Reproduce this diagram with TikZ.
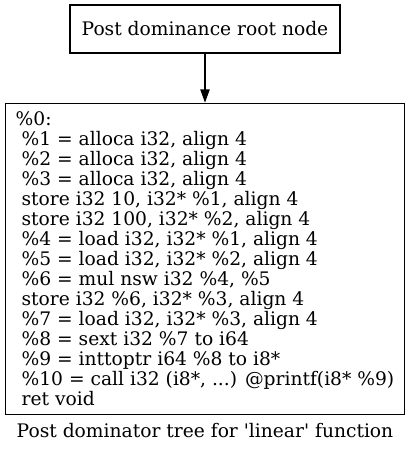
\documentclass[tikz,border=0pt]{standalone}
\usepackage{fontspec}
\setmainfont{DejaVu Serif}
\usetikzlibrary{positioning,arrows.meta}
\newcommand{\lsp}{\hbox{}\ }

\begin{document}
\begin{tikzpicture}[x=1pt,y=1pt,
  every node/.style={font=\fontsize{14pt}{15pt}\selectfont},
  box/.style={draw, line width=1pt, rectangle, inner sep=0pt}]
  \useasboundingbox (0,0) rectangle (308.25,-338.25);
  % root of the post dominator tree
  \node[box, minimum width=202.5pt, minimum height=36pt] (root) at (153.75,-21.75) {Post dominance root node};
  % the single basic block
  \node[box, inner xsep=7.5pt, minimum height=233.25pt, align=left, below=36.75pt of root] (bb0) {\%0:\\
    \lsp\%1 = alloca i32, align 4\\
    \lsp\%2 = alloca i32, align 4\\
    \lsp\%3 = alloca i32, align 4\\
    \lsp store i32 10, i32* \%1, align 4\\
    \lsp store i32 100, i32* \%2, align 4\\
    \lsp\%4 = load i32, i32* \%1, align 4\\
    \lsp\%5 = load i32, i32* \%2, align 4\\
    \lsp\%6 = mul nsw i32 \%4, \%5\\
    \lsp store i32 \%6, i32* \%3, align 4\\
    \lsp\%7 = load i32, i32* \%3, align 4\\
    \lsp\%8 = sext i32 \%7 to i64\\
    \lsp\%9 = inttoptr i64 \%8 to i8*\\
    \lsp\%10 = call i32 (i8*, ...) @printf(i8* \%9)\\
    \lsp ret void};
  \node[inner sep=0pt, below=6pt of bb0] (caption) {Post dominator tree for \textquotesingle linear\textquotesingle{} function};
  \draw[-{Triangle[length=10pt,width=7pt]}, line width=1pt] (root) -- (bb0);
\end{tikzpicture}
\end{document}
